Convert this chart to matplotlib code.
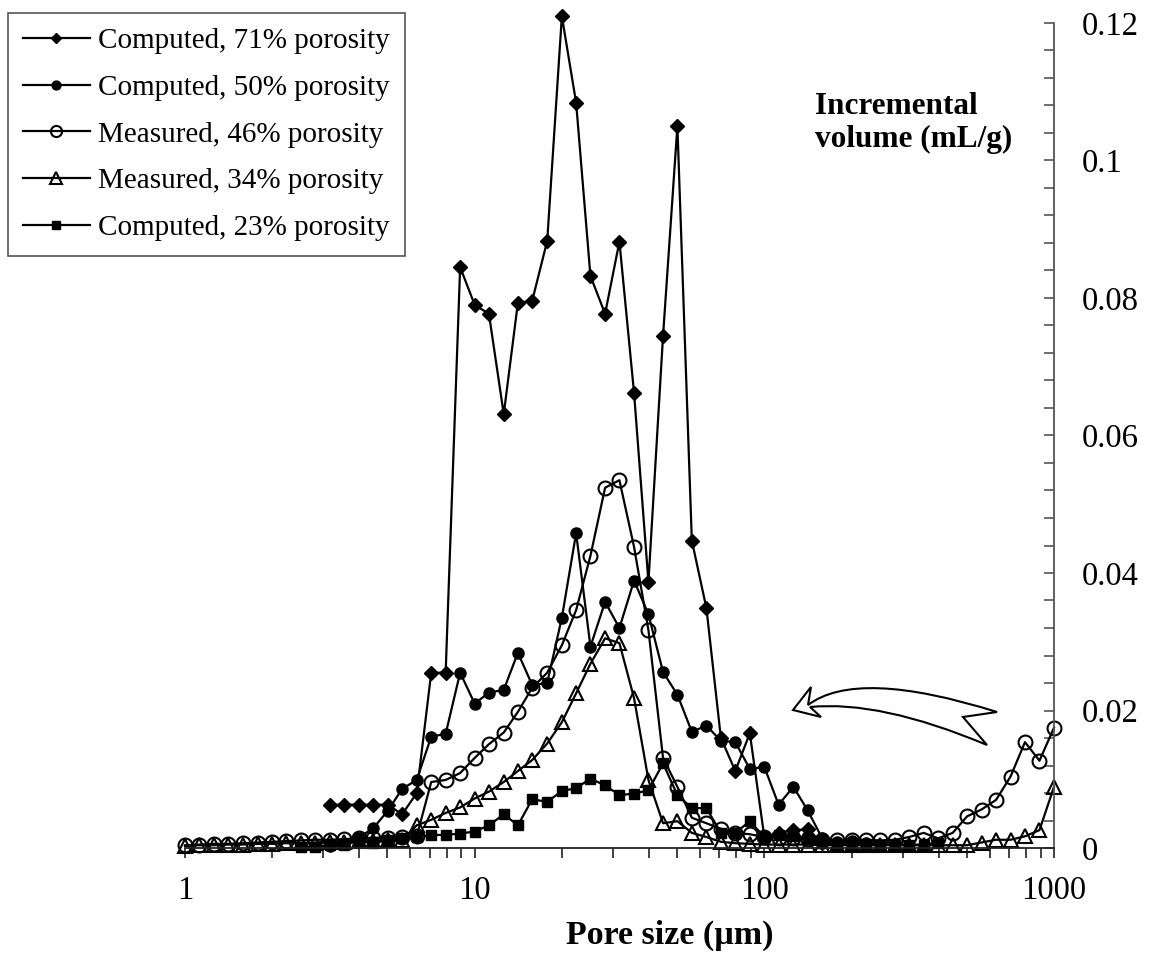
import numpy as np
import matplotlib
matplotlib.use("Agg")
import matplotlib.pyplot as plt
import matplotlib.transforms as mtransforms
from matplotlib.path import Path
from matplotlib.patches import PathPatch
from matplotlib.ticker import FixedLocator, LogLocator, NullFormatter, MultipleLocator, FuncFormatter

plt.rcParams['font.family'] = ['Liberation Serif', 'DejaVu Serif']

nan = np.nan

# Pore size bins (µm), 20 per decade
pore_size = [1.00, 1.12, 1.26, 1.41, 1.58, 1.78, 2.00, 2.24, 2.51, 2.82,
             3.16, 3.55, 3.98, 4.47, 5.01, 5.62, 6.31, 7.08, 7.94, 8.91,
             10.0, 11.2, 12.6, 14.1, 15.8, 17.8, 20.0, 22.4, 25.1, 28.2,
             31.6, 35.5, 39.8, 44.7, 50.1, 56.2, 63.1, 70.8, 79.4, 89.1,
             100, 112, 126, 141, 158, 178, 200, 224, 251, 282,
             316, 355, 398, 447, 501, 562, 631, 708, 794, 891,
             1000]

comp_71 = [nan] * 10 + [
    0.0063, 0.0063, 0.0063, 0.0063, 0.0063,
    0.0049, 0.0080, 0.0255, 0.0255, 0.0845,
    0.0790, 0.0777, 0.0631, 0.0793, 0.0796,
    0.0883, 0.1210, 0.1084, 0.0832, 0.0777,
    0.0882, 0.0662, 0.0387, 0.0745, 0.1050,
    0.0447, 0.0349, 0.0160, 0.0112, 0.0167,
    0.0016, 0.0022, 0.0026, 0.0027, 0.0008] + [nan] * 16

comp_50 = [nan] * 10 + [
    0.0003, 0.0006, 0.0015, 0.0029, 0.0054,
    0.0086, 0.0099, 0.0162, 0.0166, 0.0255,
    0.0210, 0.0226, 0.0230, 0.0284, 0.0237,
    0.0240, 0.0335, 0.0458, 0.0293, 0.0358,
    0.0320, 0.0389, 0.0340, 0.0256, 0.0223,
    0.0169, 0.0178, 0.0156, 0.0154, 0.0115,
    0.0118, 0.0063, 0.0089, 0.0055, 0.0015,
    0.0009, 0.0010, 0.0008] + [nan] * 13

meas_46 = [
    0.0004, 0.0005, 0.0006, 0.0006, 0.0007,
    0.0008, 0.0009, 0.0010, 0.0011, 0.0012,
    0.0012, 0.0013, 0.0014, 0.0015, 0.0015,
    0.0016, 0.0017, 0.0096, 0.0099, 0.0109,
    0.0131, 0.0151, 0.0168, 0.0198, 0.0233,
    0.0255, 0.0295, 0.0346, 0.0425, 0.0524,
    0.0535, 0.0438, 0.0317, 0.0131, 0.0089,
    0.0044, 0.0036, 0.0028, 0.0022, 0.0020,
    0.0016, 0.0015, 0.0014, 0.0013, 0.0012,
    0.0012, 0.0012, 0.0012, 0.0011, 0.0012,
    0.0016, 0.0022, 0.0014, 0.0022, 0.0046,
    0.0056, 0.0070, 0.0104, 0.0154, 0.0127,
    0.0175]

meas_34 = [
    0.0003, 0.0004, 0.0004, 0.0005, 0.0005,
    0.0006, 0.0006, 0.0007, 0.0007, 0.0008,
    0.0009, 0.0009, 0.0010, 0.0010, 0.0011,
    0.0012, 0.0033, 0.0041, 0.0051, 0.0059,
    0.0072, 0.0082, 0.0096, 0.0112, 0.0128,
    0.0152, 0.0183, 0.0225, 0.0268, 0.0305,
    0.0298, 0.0218, 0.0099, 0.0036, 0.0039,
    0.0022, 0.0016, 0.0009, 0.0007, 0.0006,
    0.0005, 0.0005, 0.0005, 0.0005, 0.0004,
    0.0004, 0.0004, 0.0004, 0.0004, 0.0004,
    0.0004, 0.0004, 0.0004, 0.0004, 0.0004,
    0.0008, 0.0012, 0.0012, 0.0017, 0.0026,
    0.0089]

comp_23 = [nan] * 8 + [
    0.0002, 0.0002,
    0.0004, 0.0005, 0.0010, 0.0007, 0.0012,
    0.0014, 0.0016, 0.0019, 0.0019, 0.0021,
    0.0024, 0.0033, 0.0049, 0.0033, 0.0071,
    0.0067, 0.0083, 0.0087, 0.0101, 0.0091,
    0.0077, 0.0079, 0.0084, 0.0123, 0.0077,
    0.0058, 0.0058, 0.0022, 0.0022, 0.0039,
    0.0016, 0.0019, 0.0017, 0.0015, 0.0008,
    0.0005, 0.0005, 0.0005, 0.0005, 0.0005,
    0.0005, 0.0005, 0.0008] + [nan] * 8

labels = ["Computed, 71% porosity", "Computed, 50% porosity",
          "Measured, 46% porosity", "Measured, 34% porosity",
          "Computed, 23% porosity"]

W, H = 1154, 971
fig = plt.figure(figsize=(W / 100, H / 100), dpi=100)
ax = fig.add_axes([185 / W, 1 - 848 / H, (1054 - 185) / W, (848 - 23) / H])

x = np.array(pore_size)
styles = [
    dict(marker='D', ms=7, mfc='black'),
    dict(marker='o', ms=8, mfc='black'),
    dict(marker='o', ms=10, mfc='none', mew=1.5),
    dict(marker='^', ms=10, mfc='none', mew=1.5),
    dict(marker='s', ms=7.5, mfc='black'),
]
for ys, lab, st in zip([comp_71, comp_50, meas_46, meas_34, comp_23], labels, styles):
    ax.plot(x, np.array(ys, dtype=float), color='black', lw=1.6, mec='black',
            label=lab, clip_on=False, **st)

ax.set_xscale('log')
ax.set_xlim(1, 1000)
ax.set_ylim(0, 0.12)

for s in ['left', 'top']:
    ax.spines[s].set_visible(False)
ax.spines['right'].set_color('#555555')
ax.spines['bottom'].set_color('#222222')
ax.spines['right'].set_linewidth(1.3)
ax.spines['bottom'].set_linewidth(1.3)

ax.xaxis.set_major_locator(FixedLocator([1, 10, 100, 1000]))
ax.xaxis.set_minor_locator(LogLocator(base=10, subs=range(2, 10)))
ax.xaxis.set_minor_formatter(NullFormatter())
ax.set_xticklabels(['1', '10', '100', '1000'])
ax.tick_params(axis='x', which='both', direction='out', length=7, width=1.2,
               color='#222222', labelsize=23.5, pad=13)

ax.yaxis.tick_right()
ax.yaxis.set_major_locator(MultipleLocator(0.02))
ax.yaxis.set_minor_locator(MultipleLocator(0.004))
ax.yaxis.set_major_formatter(FuncFormatter(lambda v, p: '%g' % round(v, 3)))
ax.tick_params(axis='y', which='both', direction='in', length=7, width=1.2,
               color='#555555', labelsize=23.5, pad=20)

fig.text(670 / W, 1 - 935 / H, 'Pore size (\u00b5m)', ha='center', va='center',
         fontsize=24.5, fontweight='bold')
fig.text(815 / W, 1 - 123 / H, 'Incremental\nvolume (mL/g)', ha='left', va='center',
         fontsize=22.5, fontweight='bold', linespacing=1.2)

leg = ax.legend(loc='upper left', bbox_to_anchor=(8 / W, 1 - 13 / H),
                bbox_transform=fig.transFigure, borderaxespad=0, fontsize=21,
                frameon=True, fancybox=False, framealpha=1, edgecolor='#555555',
                handlelength=2.3, handletextpad=0.3, labelspacing=0.7,
                borderpad=0.5, markerscale=0.8)
leg.get_frame().set_linewidth(1.2)

# hollow curved arrow pointing from the right-hand peak toward the main peaks
px = mtransforms.Affine2D().scale(1 / W, -1 / H).translate(0, 1) + fig.transFigure
verts = [(793, 710), (811, 687), (808, 705),
         (857, 668), (997, 712),
         (963, 717), (987, 745),
         (880, 700), (810, 707),
         (821, 717), (793, 710)]
codes = [Path.MOVETO, Path.LINETO, Path.LINETO,
         Path.CURVE3, Path.CURVE3,
         Path.LINETO, Path.LINETO,
         Path.CURVE3, Path.CURVE3,
         Path.LINETO, Path.CLOSEPOLY]
fig.patches.append(PathPatch(Path(verts, codes), transform=px, facecolor='white',
                             edgecolor='black', lw=1.5))

fig.savefig('out.png', dpi=100)
